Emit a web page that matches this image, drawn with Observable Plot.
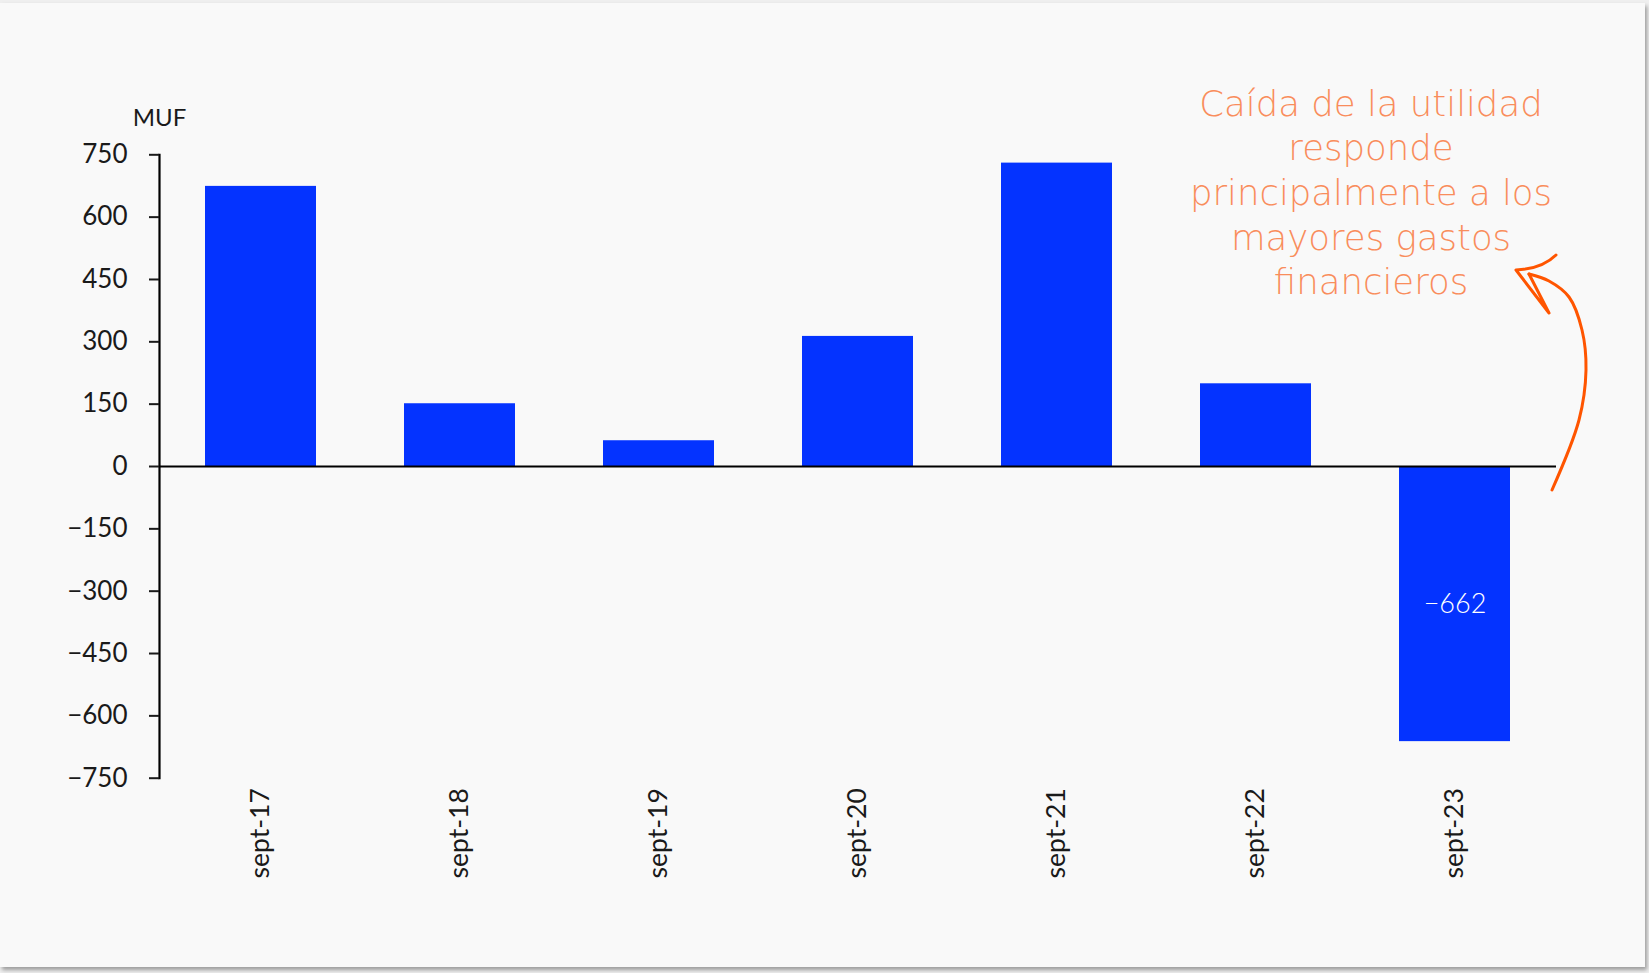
<!DOCTYPE html>
<html>
<head>
<meta charset="utf-8">
<script src="https://cdn.jsdelivr.net/npm/d3@7"></script>
<script src="https://cdn.jsdelivr.net/npm/@observablehq/plot@0.6"></script>
<style>
  html, body { margin: 0; padding: 0; background: #efefef; width: 1649px; height: 973px; overflow: hidden; }
  #card { position: absolute; left: 0; top: 3px; width: 1645px; height: 964px; background: #f9f9f9;
          box-shadow: 2px 3px 4px rgba(0,0,0,0.35); }
  #chart { position: absolute; left: 0; top: 0; }
</style>
</head>
<body>
<div id="card"></div>
<div id="chart"></div>
<script>
// ---- data ----
const categories = ["sept-17", "sept-18", "sept-19", "sept-20", "sept-21", "sept-22", "sept-23"];
const values = [674, 151, 62, 313, 730, 199, -662];
const yTicks = [-750, -600, -450, -300, -150, 0, 150, 300, 450, 600, 750];
const yUnit = "MUF";
const annotationLines = ["Caída de la utilidad", "responde", "principalmente a los", "mayores gastos", "financieros"];

const data = categories.map((c, i) => ({cat: c, value: values[i]}));
const fmt = d3.format(",");

const blue = "#0433ff";
const orangeText = "#f98d5c";
const orangeArrow = "#ff5500";

const chart = Plot.plot({
  width: 1649,
  height: 973,
  marginLeft: 159,
  marginRight: 93,
  marginTop: 154.3,
  marginBottom: 195.3,
  style: {background: "transparent", fontFamily: "Lato, 'Open Sans', sans-serif", fontSize: "26px", color: "#1a1a1a"},
  x: {domain: categories, paddingInner: 0.444, paddingOuter: 0.222, align: 0.5},
  y: {domain: [-750, 750]},
  marks: [
    Plot.barY(data, {x: "cat", y: "value", fill: blue}),
    Plot.ruleY([0], {stroke: "#000", strokeWidth: 2.2}),
    Plot.frame({anchor: "left", stroke: "#000", strokeWidth: 2.2}),
    Plot.axisY({ticks: yTicks, tickSize: 10, tickPadding: 22, strokeWidth: 2, label: null, fontSize: 26, tickFormat: fmt}),
    Plot.axisX({tickSize: 0, tickPadding: 10, tickRotate: -90, label: null, fontSize: 26.5}),
    Plot.text([yUnit], {frameAnchor: "top-left", text: d => d, textAnchor: "middle", lineAnchor: "bottom", dy: -29.3, fontSize: 24, fill: "#1a1a1a"}),
    Plot.text(data.filter(d => d.value < 0), {x: "cat", y: d => d.value / 2, text: d => fmt(d.value), fill: "#fff", fontSize: 27, fontWeight: 300}),
    Plot.text([annotationLines.join("\n")], {frameAnchor: "top-right", text: d => d, textAnchor: "middle", lineAnchor: "top",
      dx: -185.5, dy: -71, fontSize: 35.5, lineHeight: 1.26, fill: orangeText, fontWeight: 200,
      fontFamily: "'DejaVu Sans', Lato, sans-serif"})
  ]
});
document.getElementById("chart").appendChild(chart);

// hand-drawn annotation arrow, anchored to the last bar through the scales
const xs = chart.scale("x");
const ys = chart.scale("y");
const bx = xs.apply(categories[categories.length - 1]) + xs.bandwidth; // right edge of last bar
const y0 = ys.apply(0);
const P = (dx, dy) => [bx + dx, y0 + dy];
const curvePts = [P(42, 24), P(69, -46), P(76, -96), P(72, -136), P(59, -169), P(39, -185), P(19, -192)];
const svg = d3.select(chart);
svg.append("path")
  .attr("d", d3.line().curve(d3.curveCatmullRom)(curvePts))
  .attr("fill", "none").attr("stroke", orangeArrow).attr("stroke-width", 3).attr("stroke-linecap", "round");
const tip = P(6, -196), barb = P(39, -153), inner = P(19, -192), curlMid = P(32, -197), curlEnd = P(46, -211);
svg.append("path")
  .attr("d", `M${inner}L${barb}L${tip}Q${curlMid} ${curlEnd}`)
  .attr("fill", "none").attr("stroke", orangeArrow).attr("stroke-width", 3)
  .attr("stroke-linecap", "round").attr("stroke-linejoin", "round");
</script>
</body>
</html>
